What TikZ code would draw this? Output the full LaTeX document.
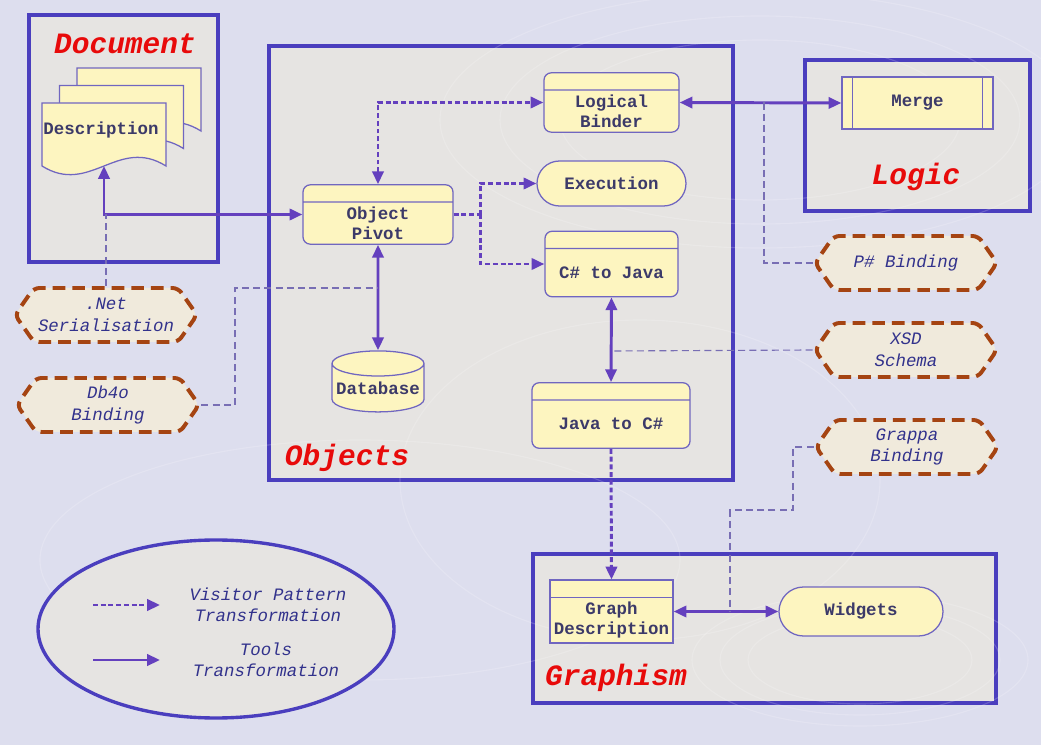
\documentclass[tikz,border=0pt]{standalone}
\usepackage{fontspec}
\setmonofont{Liberation Mono}
\usetikzlibrary{arrows.meta,shapes.geometric,shapes.misc,shapes.multipart,shapes.symbols}

\definecolor{bgcol}{RGB}{221,222,238}
\definecolor{panelfill}{RGB}{230,228,226}
\definecolor{panelline}{RGB}{74,62,190}
\definecolor{boxfill}{RGB}{253,245,192}
\definecolor{boxline}{RGB}{112,102,192}
\definecolor{boxtext}{RGB}{60,58,105}
\definecolor{arrowcol}{RGB}{100,64,190}
\definecolor{hintline}{RGB}{120,110,180}
\definecolor{badgeline}{RGB}{165,68,18}
\definecolor{badgefill}{RGB}{240,234,220}
\definecolor{badgetext}{RGB}{50,50,140}
\definecolor{titlered}{RGB}{232,10,10}

% keeps one-line header boxes as tall as the two-line ones
\newcommand{\bodystrut}{\rule[-0.35cm]{0pt}{0.975cm}}

\tikzset{
  panel/.style={draw=panelline, fill=panelfill, line width=2.4pt},
  paneltitle/.style={text=titlered, font=\fontsize{21}{24}\selectfont\ttfamily\bfseries\itshape},
  plainbox/.style={draw=boxline, fill=boxfill, line width=0.9pt, text=boxtext, align=center,
    inner sep=0pt, font=\fontsize{12.4}{14.2}\selectfont\ttfamily\bfseries},
  headbox/.style={plainbox, rectangle split, rectangle split parts=2, inner ysep=0.1cm,
    rectangle split empty part height=0.2cm, rounded corners=0.18cm},
  pillbox/.style={plainbox, rounded rectangle},
  sheet/.style={draw=boxline, fill=boxfill, line width=0.9pt},
  badge/.style={shape=signal, signal to=east and west, signal pointer angle=110,
    draw=badgeline, fill=badgefill, line width=2.8pt, dash pattern=on 9pt off 5pt,
    rounded corners=0.14cm, minimum width=4.55cm, minimum height=1.35cm, inner sep=0pt,
    align=center, text=badgetext, font=\fontsize{12.4}{15.5}\selectfont\ttfamily\itshape},
  legendtext/.style={align=center, text=badgetext, font=\fontsize{12.4}{15}\selectfont\ttfamily\itshape},
  swirl/.style={draw=white, line width=0.8pt, opacity=0.18},
  tool/.style={draw=arrowcol, line width=2.1pt},
  visitor/.style={tool, dash pattern=on 3.5pt off 2pt},
  hint/.style={draw=hintline, line width=0.8pt, dash pattern=on 5pt off 3pt}
}

\begin{document}
\begin{tikzpicture}[>={Triangle[length=0.32cm,width=0.28cm]}]
  \fill[bgcol] (0,0) rectangle (26.025,-18.625);
  \useasboundingbox (0,0) rectangle (26.025,-18.625);

  % panels
  \draw[panel] (0.725,-0.375) rectangle (5.45,-6.55);
  \draw[panel] (6.725,-1.15) rectangle (18.325,-12);
  \draw[panel] (20.125,-1.5) rectangle (25.75,-5.275);
  \draw[panel] (13.325,-13.85) rectangle (24.9,-17.575);

  % faint background swirls
  \foreach \r in {1,1.3,1.6}
    \draw[swirl] (19,-3) ellipse ({5*\r} and {2*\r});
  \foreach \r in {1,1.25,1.5}
    \draw[swirl] (21.5,-16.5) ellipse ({2.8*\r} and {1.1*\r});
  \draw[swirl] (16,-12) ellipse (6 and 4);
  \draw[swirl] (9,-14) ellipse (8 and 3);

  \node[paneltitle] (doc-t) at (3.125,-1.1) {Document};
  \node[paneltitle] (obj-t) at (8.675,-11.45) {Objects};
  \node[paneltitle] (logic-t) at (22.9,-4.425) {Logic};
  \node[paneltitle] (graph-t) at (15.4,-16.95) {Graphism};

  % document sheets
  \foreach \s in {2,1,0}
    \draw[sheet, shift={(\s*0.4375,\s*0.4375)}]
      (1.05,-2.575) -- (4.15,-2.575) -- (4.15,-4.15)
      .. controls (2.95,-3.4) and (2.25,-4.9) .. (1.05,-4.15) -- cycle;
  \node[plainbox, draw=none, fill=none] (desc) at (2.525,-3.25) {Description};
  \coordinate (desc-bot) at (2.6,-4.15);

  % objects
  \node[headbox, minimum width=3.75cm] (pivot) at (9.45,-5.3625)
    {\nodepart{two}Object\\Pivot};
  \node[headbox, minimum width=3.375cm] (binder) at (15.2875,-2.5625)
    {\nodepart{two}Logical\\Binder};
  \node[pillbox, minimum width=3.725cm, minimum height=1.125cm] (exec) at (15.2875,-4.5875) {Execution};
  \node[headbox, minimum width=3.325cm] (c2j) at (15.2875,-6.6)
    {\nodepart{two}\bodystrut C\# to Java};
  \node[plainbox, cylinder, shape border rotate=90, aspect=0.3,
    minimum width=2.3cm, minimum height=1.525cm] (db) at (9.45,-9.7) {Database};
  \node[headbox, minimum width=3.95cm] (j2c) at (15.275,-10.3875)
    {\nodepart{two}\bodystrut Java to C\#};

  % logic and graphism
  \node[plainbox, minimum width=3.775cm, minimum height=1.3cm] (merge) at (22.9375,-2.575) {Merge};
  \draw[sheet] ([xshift=0.275cm]merge.north west) -- ([xshift=0.275cm]merge.south west);
  \draw[sheet] ([xshift=-0.275cm]merge.north east) -- ([xshift=-0.275cm]merge.south east);
  \node[headbox, rounded corners=0pt, minimum width=3.075cm] (gdesc)
    at (15.2875,-15.2875) {\nodepart{two}Graph\\Description};
  \node[pillbox, minimum width=4.1cm, minimum height=1.225cm] (widgets) at (21.525,-15.2875) {Widgets};

  % bindings
  \node[badge] (net) at (2.65,-7.875) {.Net\\Serialisation};
  \node[badge] (db4o) at (2.7,-10.125) {Db4o\\Binding};
  \node[badge] (psharp) at (22.65,-6.575) {P\# Binding};
  \node[badge] (xsd) at (22.65,-8.75) {XSD\\Schema};
  \node[badge] (grappa) at (22.675,-11.175) {Grappa\\Binding};

  % transformations
  \draw[tool,<->] (pivot.west) -| (desc-bot);
  \draw[visitor,<->] (pivot.north) |- (binder.west);
  \draw[tool,<->] (binder.east) -- (merge.west);
  \draw[visitor] (pivot.east) -- ++(0.675,0) coordinate (fork);
  \draw[visitor,->] (fork) |- (exec.west);
  \draw[visitor,->] (fork) |- (c2j.west);
  \draw[tool,<->] (pivot.south) -- (db.north);
  \draw[tool,<->] (c2j.south) -- (j2c.north);
  \draw[visitor,->] (j2c.south) -- (gdesc.north);
  \draw[tool,<->] (gdesc.east) -- (widgets.west);

  % binding hints
  \coordinate (binder-tap) at (19.1,-2.5625);
  \coordinate (db-tap) at (9.45,-7.2);
  \coordinate (c2j-tap) at (15.2875,-8.775);
  \coordinate (widget-tap) at (18.25,-15.2875);
  \draw[hint] (net.north) -- (net.north |- pivot.west);
  \draw[hint] (db4o.east) -| (5.875,-7.2) -- (db-tap);
  \draw[hint] (binder-tap) |- (psharp.west);
  \draw[hint] (xsd.west) -- (c2j-tap);
  \draw[hint] (grappa.west) -| (19.825,-12.75) -| (widget-tap);

  % legend
  \node[ellipse, draw=panelline, fill=panelfill, line width=2.4pt,
    minimum width=8.9cm, minimum height=4.45cm] (legend) at (5.4,-15.725) {};
  \coordinate (vis-a) at (2.325,-15.125);
  \coordinate (vis-b) at (4,-15.125);
  \coordinate (tool-a) at (2.325,-16.5);
  \coordinate (tool-b) at (4,-16.5);
  \draw[visitor,->] (vis-a) -- (vis-b);
  \draw[tool,->] (tool-a) -- (tool-b);
  \node[legendtext] (vis-t) at (6.7,-15.125) {Visitor Pattern\\Transformation};
  \node[legendtext] (tool-t) at (6.65,-16.5) {Tools\\Transformation};
\end{tikzpicture}
\end{document}
